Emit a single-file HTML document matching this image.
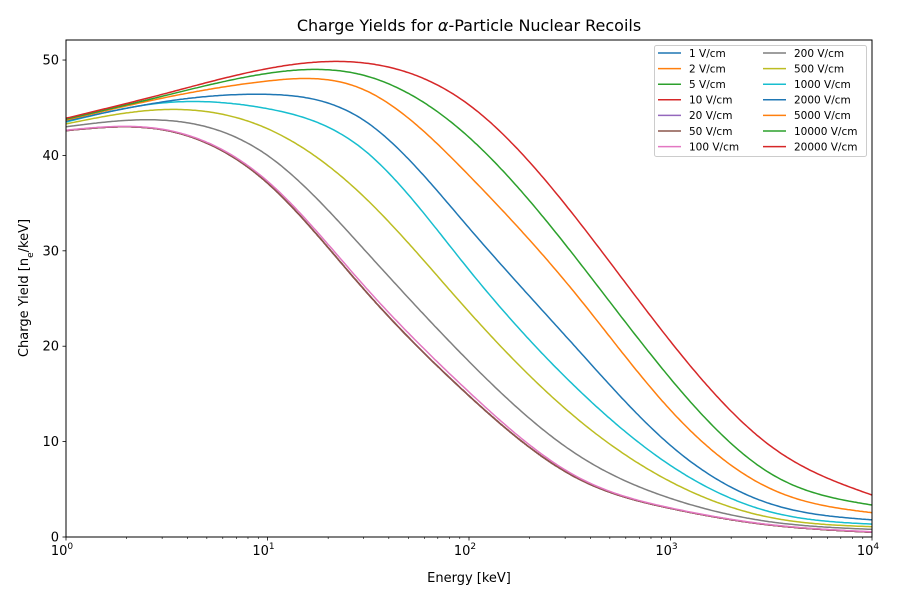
<!DOCTYPE html>
<html><head><meta charset="utf-8"><style>
body{margin:0;background:#fff}
svg text{font-family:"DejaVu Sans","Liberation Sans",sans-serif;fill:#000}
</style></head><body>
<svg id="chart" width="900" height="600" viewBox="0 0 900 600" xmlns="http://www.w3.org/2000/svg">
<rect width="900" height="600" fill="#fff"/>
<text x="469" y="31" font-size="16" text-anchor="middle">Charge Yields for <tspan font-style="italic">α</tspan>-Particle Nuclear Recoils</text>
<text x="469" y="582" font-size="13" text-anchor="middle">Energy [keV]</text>
<text transform="translate(28,288) rotate(-90)" font-size="13" text-anchor="middle">Charge Yield [n<tspan baseline-shift="sub" font-size="9">e</tspan>/keV]</text>
<g id="series"></g>
<g id="axes"></g>
<g id="legend"></g>
</svg>
<script>
const seriesNames=["1 V/cm","2 V/cm","5 V/cm","10 V/cm","20 V/cm","50 V/cm","100 V/cm","200 V/cm","500 V/cm","1000 V/cm","2000 V/cm","5000 V/cm","10000 V/cm","20000 V/cm"];
const colors=["#1f77b4","#ff7f0e","#2ca02c","#d62728","#9467bd","#8c564b","#e377c2","#7f7f7f","#bcbd22","#17becf","#1f77b4","#ff7f0e","#2ca02c","#d62728"];
const energies=[1,3,10,30,100,335,1000,3110,10000];
const baseV=[42.6,42.7,37.1,26.0,14.8,6.3,3.0,1.26,0.5];
const v100=[42.65,42.75,37.3,26.4,15.2,6.45,3.05,1.3,0.55];
const v200=[43.0,43.7,40.0,30.2,18.4,8.8,4.05,1.6,0.8];
const v500=[43.3,44.8,42.8,35.7,23.6,12.6,5.8,2.06,1.08];
const v1000=[43.5,45.5,44.9,40.6,28.0,15.8,7.5,2.65,1.35];
const v2000=[43.6,45.6,46.4,43.7,32.4,20.0,9.6,3.5,1.8];
const v5000=[43.7,46.0,47.8,46.9,37.9,25.6,13.3,5.1,2.55];
const v10000=[43.8,46.2,48.6,48.4,41.9,29.4,16.6,6.7,3.35];
const v20000=[43.9,46.4,49.1,49.7,45.3,33.6,20.5,9.6,4.4];
const seriesV=[baseV,baseV,baseV,baseV,baseV,baseV,v100,v200,v500,v1000,v2000,v5000,v10000,v20000];
const yTicks=[0,10,20,30,40,50];
const xTickExp=[0,1,2,3,4];

const L=66,R=872,T=40,B=537;
const xS=e=>L+Math.log10(e)/4*(R-L);
const yS=v=>B-(v/52.1)*(B-T);
const NS="http://www.w3.org/2000/svg";
function mk(tag,attrs,parent){const el=document.createElementNS(NS,tag);for(const k in attrs)el.setAttribute(k,attrs[k]);parent.appendChild(el);return el;}

function spline(xs,ys){
  const n=xs.length,h=[],al=[0],l=[1],mu=[0],z=[0],c=new Array(n).fill(0),b=[],d=[];
  for(let i=0;i<n-1;i++)h.push(xs[i+1]-xs[i]);
  for(let i=1;i<n-1;i++)al.push(3/h[i]*(ys[i+1]-ys[i])-3/h[i-1]*(ys[i]-ys[i-1]));
  for(let i=1;i<n-1;i++){l[i]=2*(xs[i+1]-xs[i-1])-h[i-1]*mu[i-1];mu[i]=h[i]/l[i];z[i]=(al[i]-h[i-1]*z[i-1])/l[i];}
  for(let j=n-2;j>=0;j--){c[j]=(j===0?0:z[j]-mu[j]*c[j+1]);if(j===0)c[0]=0;b[j]=(ys[j+1]-ys[j])/h[j]-h[j]*(c[j+1]+2*c[j])/3;d[j]=(c[j+1]-c[j])/(3*h[j]);}
  // recompute properly for j=0 (natural: c0=0)
  for(let j=n-2;j>=0;j--){b[j]=(ys[j+1]-ys[j])/h[j]-h[j]*(c[j+1]+2*c[j])/3;d[j]=(c[j+1]-c[j])/(3*h[j]);}
  return x=>{let i=0;while(i<n-2&&x>xs[i+1])i++;const t=x-xs[i];return ys[i]+b[i]*t+c[i]*t*t+d[i]*t*t*t;};
}

const sg=document.getElementById('series');
const lx=energies.map(e=>Math.log10(e));
seriesV.forEach((vals,i)=>{
  const f=spline(lx,vals);
  let d="";
  for(let k=0;k<=400;k++){const l=4*k/400;const px=L+l/4*(R-L);const py=yS(f(l));d+=(k?"L":"M")+px.toFixed(1)+","+py.toFixed(1);}
  const p=mk('path',{d:d,fill:'none',stroke:colors[i],'stroke-width':1.5},sg);
  
  
});

const ag=document.getElementById('axes');
const frame=mk('rect',{x:L,y:T,width:R-L,height:B-T,fill:'none',stroke:'#000','stroke-width':1},ag);


yTicks.forEach(v=>{
  const y=yS(v);
  mk('line',{x1:L-3.5,x2:L,y1:y,y2:y,stroke:'#000','stroke-width':0.8},ag);
  const t=mk('text',{x:L-7,y:y+4.5,'font-size':13,'text-anchor':'end'},ag);
  t.textContent=v;
  
  
});
xTickExp.forEach(p=>{
  const x=xS(Math.pow(10,p));
  mk('line',{x1:x,x2:x,y1:B,y2:B+3.5,stroke:'#000','stroke-width':0.8},ag);
  const t=mk('text',{x:x-4,y:B+18,'font-size':13,'text-anchor':'middle'},ag);
  t.textContent='10';
  const s=mk('tspan',{dy:-6,'font-size':9},t);s.textContent=p;
  
  
  if(p<4){for(let k=2;k<=9;k++){const mx=xS(k*Math.pow(10,p));mk('line',{x1:mx,x2:mx,y1:B,y2:B+2,stroke:'#000','stroke-width':0.6},ag);}}
});

const lg=document.getElementById('legend');
const box=mk('rect',{x:654.5,y:45.5,width:212,height:111,rx:2,fill:'#fff','fill-opacity':0.8,stroke:'#ccc','stroke-width':1},lg);


seriesNames.forEach((n,i)=>{
  const col=i<7?0:1,row=i%7;
  const x0=col?763:658,y=53+row*15.6;
  const g=mk('g',{},lg);
  
  
  mk('line',{x1:x0,x2:x0+23,y1:y,y2:y,stroke:colors[i],'stroke-width':1.5},g);
  const t=mk('text',{x:x0+31,y:y+3.8,'font-size':10.5},g);t.textContent=n;
});
</script>
</body></html>
